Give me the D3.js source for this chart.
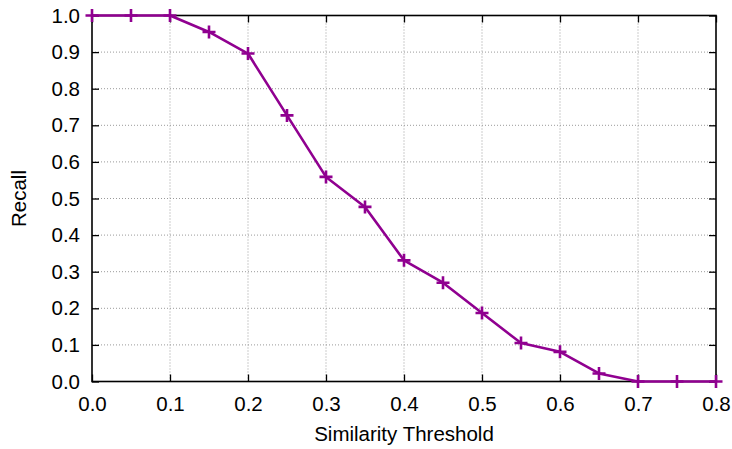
<!DOCTYPE html>
<html>
<head>
<meta charset="utf-8">
<script src="https://cdn.jsdelivr.net/npm/d3@7"></script>
<style>
  html, body { margin: 0; padding: 0; background: #fff; }
  svg { display: block; }
  text { font-family: "Liberation Sans", Arial, Helvetica, sans-serif; fill: #000; }
</style>
</head>
<body>
<svg id="chart" width="732" height="449"></svg>
<script>
// Similarity threshold sweep and the recall measured at each step
const thresholds = [0.00, 0.05, 0.10, 0.15, 0.20, 0.25, 0.30, 0.35, 0.40,
                    0.45, 0.50, 0.55, 0.60, 0.65, 0.70, 0.75, 0.80];
const recall     = [1.000, 1.000, 1.000, 0.955, 0.896, 0.727, 0.559, 0.477, 0.331,
                    0.270, 0.187, 0.105, 0.081, 0.022, 0.000, 0.000, 0.000];
const xTicks = [0.0, 0.1, 0.2, 0.3, 0.4, 0.5, 0.6, 0.7, 0.8];
const yTicks = [0.0, 0.1, 0.2, 0.3, 0.4, 0.5, 0.6, 0.7, 0.8, 0.9, 1.0];
const xTitle = "Similarity Threshold";
const yTitle = "Recall";

const svg = d3.select("#chart");
const margin = { left: 92, right: 16, top: 15.5, bottom: 67.5 };
const W = 732, H = 449;
const x = d3.scaleLinear().domain([0, 0.8]).range([margin.left, W - margin.right]);
const y = d3.scaleLinear().domain([0, 1]).range([H - margin.bottom, margin.top]);
const lineColor = "#900090";
const fontSize = 20.5;
const tickLen = 7;

// dotted grid
const grid = svg.append("g");
grid.selectAll("line.gx").data(xTicks.slice(1, -1)).join("line")
  .attr("x1", d => x(d)).attr("x2", d => x(d))
  .attr("y1", y(0)).attr("y2", y(1))
  .attr("stroke", "#9a9a9a").attr("stroke-width", 1).attr("stroke-dasharray", "1,2");
grid.selectAll("line.gy").data(yTicks.slice(1, -1)).join("line")
  .attr("x1", x(0)).attr("x2", x(0.8))
  .attr("y1", d => y(d)).attr("y2", d => y(d))
  .attr("stroke", "#9a9a9a").attr("stroke-width", 1).attr("stroke-dasharray", "1,2");

// axes: inward ticks, mirrored on the opposite sides
function styleAxis(g) {
  g.attr("font-size", null).attr("font-family", null);
  g.select(".domain").remove();
  g.selectAll(".tick line").attr("stroke", "#000").attr("stroke-width", 1.3);
  g.selectAll(".tick text").style("font-size", fontSize + "px")
    .style("font-family", '"Liberation Sans", Arial, sans-serif');
}
const fmt = d3.format(".1f");
svg.append("g").attr("transform", `translate(0,${y(0)})`)
  .call(d3.axisBottom(x).tickValues(xTicks).tickFormat(fmt).tickSizeInner(-tickLen).tickSizeOuter(0).tickPadding(15))
  .call(styleAxis);
svg.append("g").attr("transform", `translate(0,${y(1)})`)
  .call(d3.axisTop(x).tickValues(xTicks).tickFormat("").tickSizeInner(-tickLen).tickSizeOuter(0))
  .call(styleAxis);
svg.append("g").attr("transform", `translate(${x(0)},0)`)
  .call(d3.axisLeft(y).tickValues(yTicks).tickFormat(fmt).tickSizeInner(-tickLen).tickSizeOuter(0).tickPadding(12))
  .call(styleAxis);
svg.append("g").attr("transform", `translate(${x(0.8)},0)`)
  .call(d3.axisRight(y).tickValues(yTicks).tickFormat("").tickSizeInner(-tickLen).tickSizeOuter(0))
  .call(styleAxis);

// plot border
svg.append("rect")
  .attr("x", x(0)).attr("y", y(1))
  .attr("width", x(0.8) - x(0)).attr("height", y(0) - y(1))
  .attr("fill", "none").attr("stroke", "#000").attr("stroke-width", 1.6);

// data line
const pts = thresholds.map((t, i) => [t, recall[i]]);
svg.append("path").datum(pts)
  .attr("fill", "none").attr("stroke", lineColor).attr("stroke-width", 2.6)
  .attr("stroke-linejoin", "round")
  .attr("d", d3.line().x(d => x(d[0])).y(d => y(d[1])));

// "+" point markers
const s = 6.5;
svg.append("g").selectAll("path").data(pts).join("path")
  .attr("d", d => `M${x(d[0]) - s},${y(d[1])}H${x(d[0]) + s}M${x(d[0])},${y(d[1]) - s}V${y(d[1]) + s}`)
  .attr("stroke", lineColor).attr("stroke-width", 2.6).attr("fill", "none");

// axis titles
svg.append("text")
  .attr("x", (x(0) + x(0.8)) / 2).attr("y", 440.5)
  .attr("text-anchor", "middle").style("font-size", fontSize + "px")
  .text(xTitle);
svg.append("text")
  .attr("transform", `translate(26,${(y(0) + y(1)) / 2}) rotate(-90)`)
  .attr("text-anchor", "middle").style("font-size", fontSize + "px")
  .text(yTitle);
</script>
</body>
</html>
